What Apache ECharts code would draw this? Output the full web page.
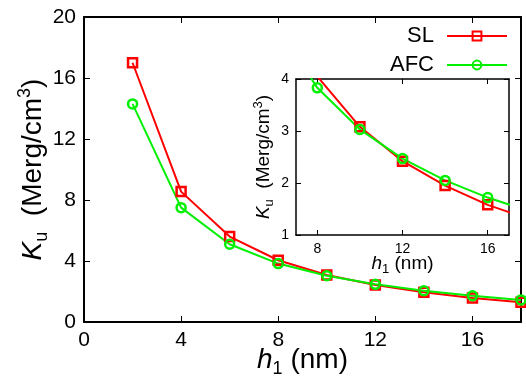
<!DOCTYPE html>
<html>
<head>
<meta charset="utf-8">
<script src="https://cdn.jsdelivr.net/npm/echarts@6/dist/echarts.min.js"></script>
<style>
  html, body { margin: 0; padding: 0; background: #fff; }
  #chart { width: 526px; height: 376px; }
</style>
</head>
<body>
<div id="chart"></div>
<script>
// h1 (nm)
var h1 = [2, 4, 6, 8, 10, 12, 14, 16, 18]
// Ku (Merg/cm^3)
var slValues = [17.0, 8.55, 5.6, 4.05, 3.08, 2.42, 1.95, 1.58, 1.3]
var afcValues = [14.3, 7.5, 5.1, 3.83, 3.03, 2.47, 2.05, 1.72, 1.45]
var insetXTicks = [8, 12, 16]

var red = '#ff0000'
var green = '#00f000'
var font = 'Liberation Sans, Arial, sans-serif'

function pairs(ys) {
  return h1.map(function (x, i) { return [x, ys[i]] })
}

var myChart = echarts.init(document.getElementById('chart'), null, { renderer: 'canvas' })

// 轴的公共样式
function frameAxis(extra) {
  var base = {
    axisLine: { show: true, onZero: false, lineStyle: { color: '#000', width: 2 } },
    axisTick: { show: true, inside: true, length: 6, lineStyle: { color: '#000', width: 1 } },
    splitLine: { show: false },
    axisLabel: { show: false },
    nameMoveOverlap: false
  }
  return Object.assign(base, extra)
}

var insetLine = { show: true, onZero: false, lineStyle: { color: '#000', width: 1.5 } }
var mainLabel = { show: true, color: '#000', fontSize: 21, fontFamily: font, margin: 8 }
var insetLabel = { show: true, color: '#000', fontSize: 14, fontFamily: font, margin: 7 }

// 上下标用 rich text 实现
function nameRich(size) {
  var lh = Math.round(size * 1.25)
  var small = Math.round(size * 0.66)
  return {
    i: { fontStyle: 'italic', fontSize: size, fontFamily: font, color: '#000', lineHeight: lh },
    t: { fontSize: size, fontFamily: font, color: '#000', lineHeight: lh },
    sb: { fontSize: small, fontFamily: font, color: '#000', lineHeight: small, verticalAlign: 'bottom' },
    sp: { fontSize: small, fontFamily: font, color: '#000', lineHeight: small, verticalAlign: 'top' }
  }
}

var kName = '{i|K}{sb|u}{t|  (Merg/cm}{sp|3}{t|)}'
var hName = '{i|h}{sb|1}{t| (nm)}'

var option = {
  animation: false,
  backgroundColor: '#fff',
  legend: {
    right: 13,
    top: 20,
    orient: 'vertical',
    align: 'right',
    itemWidth: 60,
    itemHeight: 11,
    itemGap: 7,
    textStyle: { fontSize: 22, fontFamily: font, color: '#000', padding: [0, 8, 0, 0] },
    data: ['SL', 'AFC']
  },
  grid: [
    { left: 84, right: 5, top: 17, bottom: 54, outerBoundsMode: 'none' },
    { left: 296, width: 213, top: 79, height: 156, outerBoundsMode: 'none' }
  ],
  xAxis: [
    frameAxis({
      gridIndex: 0, type: 'value', position: 'bottom', min: 0, max: 18, interval: 4,
      axisLabel: Object.assign({ showMaxLabel: false }, mainLabel),
      name: hName, nameLocation: 'middle', nameGap: 21,
      nameTextStyle: { rich: nameRich(28) }
    }),
    frameAxis({ gridIndex: 0, type: 'value', position: 'top', min: 0, max: 18, interval: 4 }),
    frameAxis({
      gridIndex: 1, type: 'value', position: 'bottom', min: 7, max: 17,
      axisLine: insetLine,
      axisTick: { show: true, inside: true, length: 5, customValues: insetXTicks, lineStyle: { color: '#000' } },
      axisLabel: Object.assign({ customValues: insetXTicks }, insetLabel),
      name: hName, nameLocation: 'middle', nameGap: 17,
      nameTextStyle: { rich: nameRich(19) }
    }),
    frameAxis({
      gridIndex: 1, type: 'value', position: 'top', min: 7, max: 17,
      axisLine: insetLine,
      axisTick: { show: true, inside: true, length: 5, customValues: insetXTicks, lineStyle: { color: '#000' } }
    })
  ],
  yAxis: [
    frameAxis({
      gridIndex: 0, type: 'value', position: 'left', min: 0, max: 20, interval: 4,
      axisLabel: mainLabel,
      name: kName, nameLocation: 'middle', nameGap: 33,
      nameTextStyle: { rich: nameRich(28) }
    }),
    frameAxis({ gridIndex: 0, type: 'value', position: 'right', min: 0, max: 20, interval: 4 }),
    frameAxis({
      gridIndex: 1, type: 'value', position: 'left', min: 1, max: 4, interval: 1,
      axisLine: insetLine,
      axisTick: { show: true, inside: true, length: 5, lineStyle: { color: '#000' } },
      axisLabel: insetLabel,
      name: kName, nameLocation: 'middle', nameGap: 20,
      nameTextStyle: { rich: nameRich(19) }
    }),
    frameAxis({
      gridIndex: 1, type: 'value', position: 'right', min: 1, max: 4, interval: 1,
      axisLine: insetLine,
      axisTick: { show: true, inside: true, length: 5, lineStyle: { color: '#000' } }
    })
  ],
  series: [
    {
      name: 'SL', type: 'line', xAxisIndex: 0, yAxisIndex: 0, data: pairs(slValues),
      symbol: 'rect', symbolSize: 9,
      lineStyle: { color: red, width: 2 },
      itemStyle: { color: 'rgba(0,0,0,0)', borderColor: red, borderWidth: 2.5 }
    },
    {
      name: 'AFC', type: 'line', xAxisIndex: 0, yAxisIndex: 0, data: pairs(afcValues),
      symbol: 'circle', symbolSize: 9,
      lineStyle: { color: green, width: 2 },
      itemStyle: { color: 'rgba(0,0,0,0)', borderColor: green, borderWidth: 2.5 }
    },
    {
      name: 'SL', type: 'line', xAxisIndex: 2, yAxisIndex: 2, data: pairs(slValues), clip: true,
      symbol: 'rect', symbolSize: 9,
      lineStyle: { color: red, width: 2 },
      itemStyle: { color: 'rgba(0,0,0,0)', borderColor: red, borderWidth: 2.5 }
    },
    {
      name: 'AFC', type: 'line', xAxisIndex: 2, yAxisIndex: 2, data: pairs(afcValues), clip: true,
      symbol: 'circle', symbolSize: 9,
      lineStyle: { color: green, width: 2 },
      itemStyle: { color: 'rgba(0,0,0,0)', borderColor: green, borderWidth: 2.5 }
    }
  ]
}

myChart.setOption(option)
</script>
</body>
</html>
